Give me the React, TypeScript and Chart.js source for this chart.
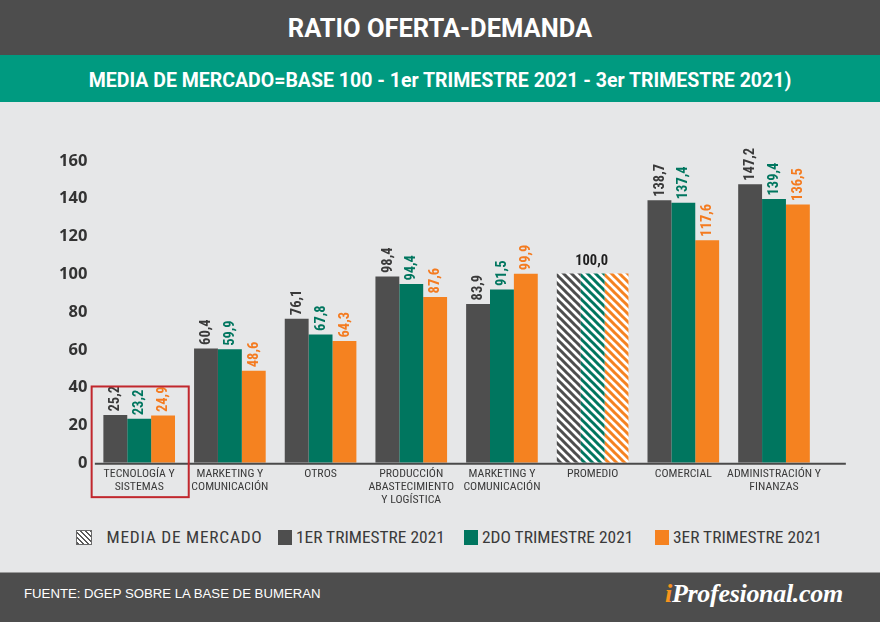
import React, { useEffect, useRef } from "react";
import { Chart, registerables } from "chart.js";

Chart.register(...registerables);

// ---------- data ----------
const categories: string[][] = [
  ["TECNOLOGÍA Y", "SISTEMAS"],
  ["MARKETING Y", "COMUNICACIÓN"],
  ["OTROS"],
  ["PRODUCCIÓN", "ABASTECIMIENTO", "Y LOGÍSTICA"],
  ["MARKETING Y", "COMUNICACIÓN"],
  ["PROMEDIO"],
  ["COMERCIAL"],
  ["ADMINISTRACIÓN Y", "FINANZAS"],
];
const trimestre1 = [25.2, 60.4, 76.1, 98.4, 83.9, 100.0, 138.7, 147.2];
const trimestre2 = [23.2, 59.9, 67.8, 94.4, 91.5, 100.0, 137.4, 139.4];
const trimestre3 = [24.9, 48.6, 64.3, 87.6, 99.9, 100.0, 117.6, 136.5];
const seriesNames = ["1ER TRIMESTRE 2021", "2DO TRIMESTRE 2021", "3ER TRIMESTRE 2021"];
const marketAverageName = "MEDIA DE MERCADO";
const yMin = 0;
const yMax = 160;
const yStep = 20;
const averageCategory = 5;
const highlightedCategory = 0;
const boxTopValue = 40;

const titleText = "RATIO OFERTA-DEMANDA";
const subtitleText = "MEDIA DE MERCADO=BASE 100 - 1er TRIMESTRE 2021 - 3er TRIMESTRE 2021)";
const sourceText = "FUENTE: DGEP SOBRE LA BASE DE BUMERAN";

// ---------- style ----------
const barColors = ["#4e4e4e", "#00765f", "#f58220"];
const labelColors = ["#3a3a3a", "#00765f", "#f47b20"];
const NARROW = "'Roboto Condensed', 'DejaVu Sans Condensed', sans-serif";
const SANS = "'Liberation Sans', Arial, sans-serif";
const BOLD_HEAD = "Roboto, 'Liberation Sans', sans-serif";
const BG = "#e6e7e8";
const DARK = "#4d4d4d";
const GREEN = "#009a80";

const fmt = (v: number) => v.toFixed(1).replace(".", ",");

function makeHatch(color: string): CanvasPattern | string {
  const s = 8;
  const c = document.createElement("canvas");
  c.width = s;
  c.height = s;
  const g = c.getContext("2d");
  if (!g) return color;
  g.fillStyle = "#ffffff";
  g.fillRect(0, 0, s, s);
  g.strokeStyle = color;
  g.lineWidth = 3;
  g.beginPath();
  for (const k of [-1, 0, 1]) {
    g.moveTo(k * s - 1, -1);
    g.lineTo(k * s + s + 1, s + 1);
  }
  g.stroke();
  return g.createPattern(c, "repeat") || color;
}

const valueLabels = {
  id: "valueLabels",
  afterDatasetsDraw(chart: any) {
    const ctx = chart.ctx as CanvasRenderingContext2D;
    chart.data.datasets.forEach((ds: any, i: number) => {
      const meta = chart.getDatasetMeta(i);
      meta.data.forEach((bar: any, j: number) => {
        if (j === averageCategory) return;
        ctx.save();
        ctx.translate(bar.x, bar.y - 3.5);
        ctx.rotate(-Math.PI / 2);
        ctx.font = `bold 14.5px ${NARROW}`;
        ctx.fillStyle = labelColors[i];
        ctx.textAlign = "left";
        ctx.textBaseline = "middle";
        ctx.fillText(fmt(ds.data[j] as number), 0, 0.5);
        ctx.restore();
      });
    });
    // single horizontal label for the market average group
    const mid = chart.getDatasetMeta(1).data[averageCategory];
    ctx.save();
    ctx.font = `bold 14.5px ${NARROW}`;
    ctx.fillStyle = "#1e1e1e";
    ctx.textAlign = "center";
    ctx.textBaseline = "alphabetic";
    ctx.fillText(fmt(trimestre2[averageCategory]), mid.x - 1, mid.y - 8);
    ctx.restore();

    // axis line (extends past the last group) and highlight box
    const area = chart.chartArea;
    const xs = chart.scales.x;
    const ys = chart.scales.y;
    ctx.save();
    ctx.strokeStyle = "#4a4a4a";
    ctx.lineWidth = 2;
    ctx.beginPath();
    ctx.moveTo(area.left + 1, area.bottom + 1);
    ctx.lineTo(area.right + 26.5, area.bottom + 1);
    ctx.stroke();

    const half = (area.right - area.left) / categories.length / 2 + 3.2;
    const cx = xs.getPixelForValue(highlightedCategory);
    const top = ys.getPixelForValue(boxTopValue) - 0.5;
    const bottom = area.bottom + 34.5;
    ctx.strokeStyle = "#c1272d";
    ctx.lineWidth = 2;
    ctx.strokeRect(cx - half + 1, top, half * 2, bottom - top);
    ctx.restore();
  },
};

function BarChart() {
  const ref = useRef<HTMLCanvasElement | null>(null);
  useEffect(() => {
    if (!ref.current) return;
    const series = [trimestre1, trimestre2, trimestre3];
    const chart = new Chart(ref.current, {
      type: "bar",
      data: {
        labels: categories,
        datasets: series.map((data, i) => {
          const hatch = makeHatch(barColors[i]);
          return {
            label: seriesNames[i],
            data,
            backgroundColor: data.map((_, j) => (j === averageCategory ? hatch : barColors[i])) as any,
            borderWidth: 0,
            categoryPercentage: 0.79,
            barPercentage: 1,
          };
        }),
      },
      options: {
        animation: false,
        responsive: false,
        maintainAspectRatio: false,
        events: [],
        layout: { padding: { top: 58, right: 60.65, bottom: 0, left: 0 } },
        plugins: {
          legend: { display: false },
          tooltip: { enabled: false },
          title: { display: false },
        },
        scales: {
          x: {
            grid: { display: false, drawTicks: false },
            border: { display: false },
            ticks: {
              padding: 5.5,
              color: "#3a3a3a",
              font: { family: NARROW, size: 11.8, lineHeight: 1.08 },
              maxRotation: 0,
              autoSkip: false,
            },
            afterFit: (s: any) => {
              s.height = 42.35;
            },
          },
          y: {
            min: yMin,
            max: yMax,
            grid: { display: false, drawTicks: false },
            border: { display: false },
            ticks: {
              stepSize: yStep,
              padding: 6.5,
              color: "#333333",
              font: { family: "'Open Sans', sans-serif", size: 16.5, weight: "bold" },
              labelOffset: 0.8,
            },
            afterFit: (s: any) => {
              s.width = 93.85;
            },
          },
        },
      },
      plugins: [valueLabels],
    });
    return () => chart.destroy();
  }, []);
  return (
    <canvas
      ref={ref}
      width={880}
      height={403}
      style={{ position: "absolute", left: 0, top: 102, width: 880, height: 403 }}
    />
  );
}

function LegendItem({
  left,
  swatch,
  text,
  gap,
  spacing,
}: {
  left: number;
  swatch: React.ReactNode;
  text: string;
  gap: number;
  spacing: number;
}) {
  return (
    <div
      style={{
        position: "absolute",
        left,
        top: 529.5,
        height: 15,
        display: "flex",
        alignItems: "center",
        whiteSpace: "nowrap",
      }}
    >
      {swatch}
      <span style={{ marginLeft: gap, font: `17.4px ${NARROW}`, letterSpacing: spacing, color: "#3a3a3a" }}>
        {text}
      </span>
    </div>
  );
}

export default function App() {
  const hatchSwatch = (
    <div
      style={{
        width: 14,
        height: 13,
        border: "1px solid #6a6a6a",
        background: "repeating-linear-gradient(45deg, #5a5a5a 0 1.6px, #ffffff 1.6px 3.6px)",
      }}
    />
  );
  const solid = (c: string) => <div style={{ width: 14, height: 15, background: c }} />;
  const legendLefts = [278, 464, 655];
  return (
    <div
      style={{
        position: "fixed",
        left: 0,
        top: 0,
        width: 880,
        height: 622,
        background: BG,
        overflow: "hidden",
        fontFamily: SANS,
      }}
    >
      <div
        style={{
          position: "absolute",
          left: 0,
          top: 0,
          width: 880,
          height: 55,
          background: DARK,
          color: "#fff",
          textAlign: "center",
          font: `bold 25.5px ${BOLD_HEAD}`,
          lineHeight: "56px",
        }}
      >
        {titleText}
      </div>
      <div style={{ position: "absolute", left: 0, top: 55, width: 880, height: 47, background: GREEN }} />
      <div
        style={{
          position: "absolute",
          left: 0,
          top: 55,
          width: 880,
          textAlign: "center",
          color: "#fff",
          font: `bold 19.5px ${BOLD_HEAD}`,
          lineHeight: "51.4px",
          whiteSpace: "nowrap",
        }}
      >
        {subtitleText}
      </div>

      <BarChart />

      <LegendItem left={76} swatch={hatchSwatch} text={marketAverageName} gap={14.5} spacing={0.75} />
      {seriesNames.map((n, i) => (
        <LegendItem key={n} left={legendLefts[i]} swatch={solid(barColors[i])} text={n} gap={4} spacing={0} />
      ))}

      <div
        style={{
          position: "absolute",
          left: 0,
          top: 572,
          width: 880,
          height: 50,
          background: DARK,
          borderTop: "1px solid #9a9a9a",
        }}
      />
      <div
        style={{
          position: "absolute",
          left: 24,
          top: 573,
          color: "#fff",
          font: `13.2px ${SANS}`,
          lineHeight: "42px",
          whiteSpace: "nowrap",
        }}
      >
        {sourceText}
      </div>
      <div
        style={{
          position: "absolute",
          left: 665,
          top: 573,
          color: "#fff",
          font: `italic bold 26px 'Liberation Serif', 'DejaVu Serif', serif`,
          lineHeight: "42.4px",
          whiteSpace: "nowrap",
          letterSpacing: "-0.3px",
        }}
      >
        <span style={{ color: "#f7941d" }}>i</span>
        Profesional.com
      </div>
    </div>
  );
}
